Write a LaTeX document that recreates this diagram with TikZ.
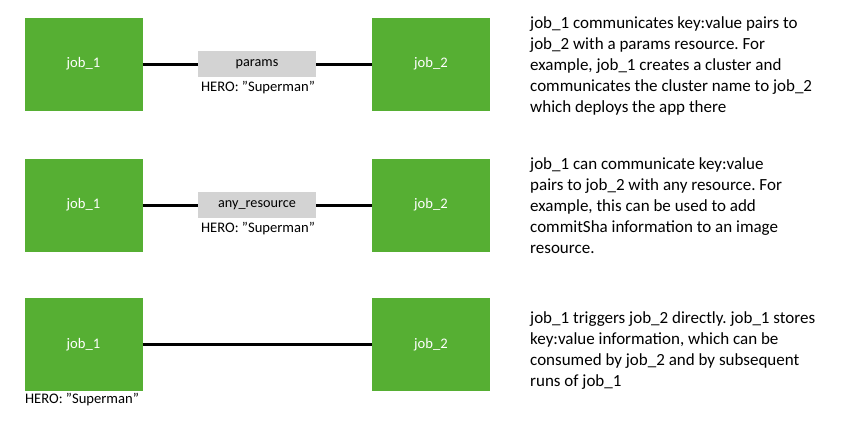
\documentclass[tikz,border=0pt]{standalone}
\usepackage{fontspec}
\setmainfont{Carlito}
\frenchspacing
\definecolor{jobgreen}{HTML}{56AF33}
\definecolor{resgray}{HTML}{D3D3D3}
\begin{document}
\begin{tikzpicture}[x=1pt,y=-1pt,
  jobbox/.style={rectangle, fill=jobgreen, minimum width=118pt, minimum height=93pt, inner sep=0pt, text=white, font=\fontsize{14.6}{17}\selectfont},
  resbox/.style={rectangle, fill=resgray, minimum width=118pt, minimum height=26pt, inner sep=0pt, font=\fontsize{14.2}{17}\selectfont},
  herolabel/.style={inner sep=0pt, font=\fontsize{14.6}{17}\selectfont},
  desc/.style={anchor=base west, inner sep=0pt, align=left, font=\fontsize{17}{21.1}\selectfont\frenchspacing},
  link/.style={line width=3pt}]
\useasboundingbox (0,0) rectangle (847,434);
% row 1
\node[jobbox] (a1) at (83.5,64) {job\_1};
\node[jobbox] (b1) at (431,64) {job\_2};
\node[resbox] (r1) at (257,64) {params};
\node[herolabel] (h1) at (258,88) {HERO: ”Superman”};
\draw[link] (a1) -- (r1);
\draw[link] (r1) -- (b1);
\node[desc] (t1) at (530,112.4) {job\_1 communicates key:value pairs to\\job\_2 with a params resource. For\\example, job\_1 creates a cluster and\\communicates the cluster name to job\_2\\which deploys the app there};
% row 2
\node[jobbox] (a2) at (83.5,205) {job\_1};
\node[jobbox] (b2) at (431,205) {job\_2};
\node[resbox] (r2) at (257,205) {any\_resource};
\node[herolabel] (h2) at (258,229) {HERO: ”Superman”};
\draw[link] (a2) -- (r2);
\draw[link] (r2) -- (b2);
\node[desc] (t2) at (530,253.4) {job\_1 can communicate key:value\\pairs to job\_2 with any resource. For\\example, this can be used to add\\commitSha information to an image\\resource.};
% row 3
\node[jobbox] (a3) at (83.5,344.5) {job\_1};
\node[jobbox] (b3) at (431,344.5) {job\_2};
\node[herolabel] (h3) at (82,400) {HERO: ”Superman”};
\draw[link] (a3) -- (b3);
\node[desc] (t3) at (530,386.3) {job\_1 triggers job\_2 directly. job\_1 stores\\key:value information, which can be\\consumed by job\_2 and by subsequent\\runs of job\_1};
\end{tikzpicture}
\end{document}
